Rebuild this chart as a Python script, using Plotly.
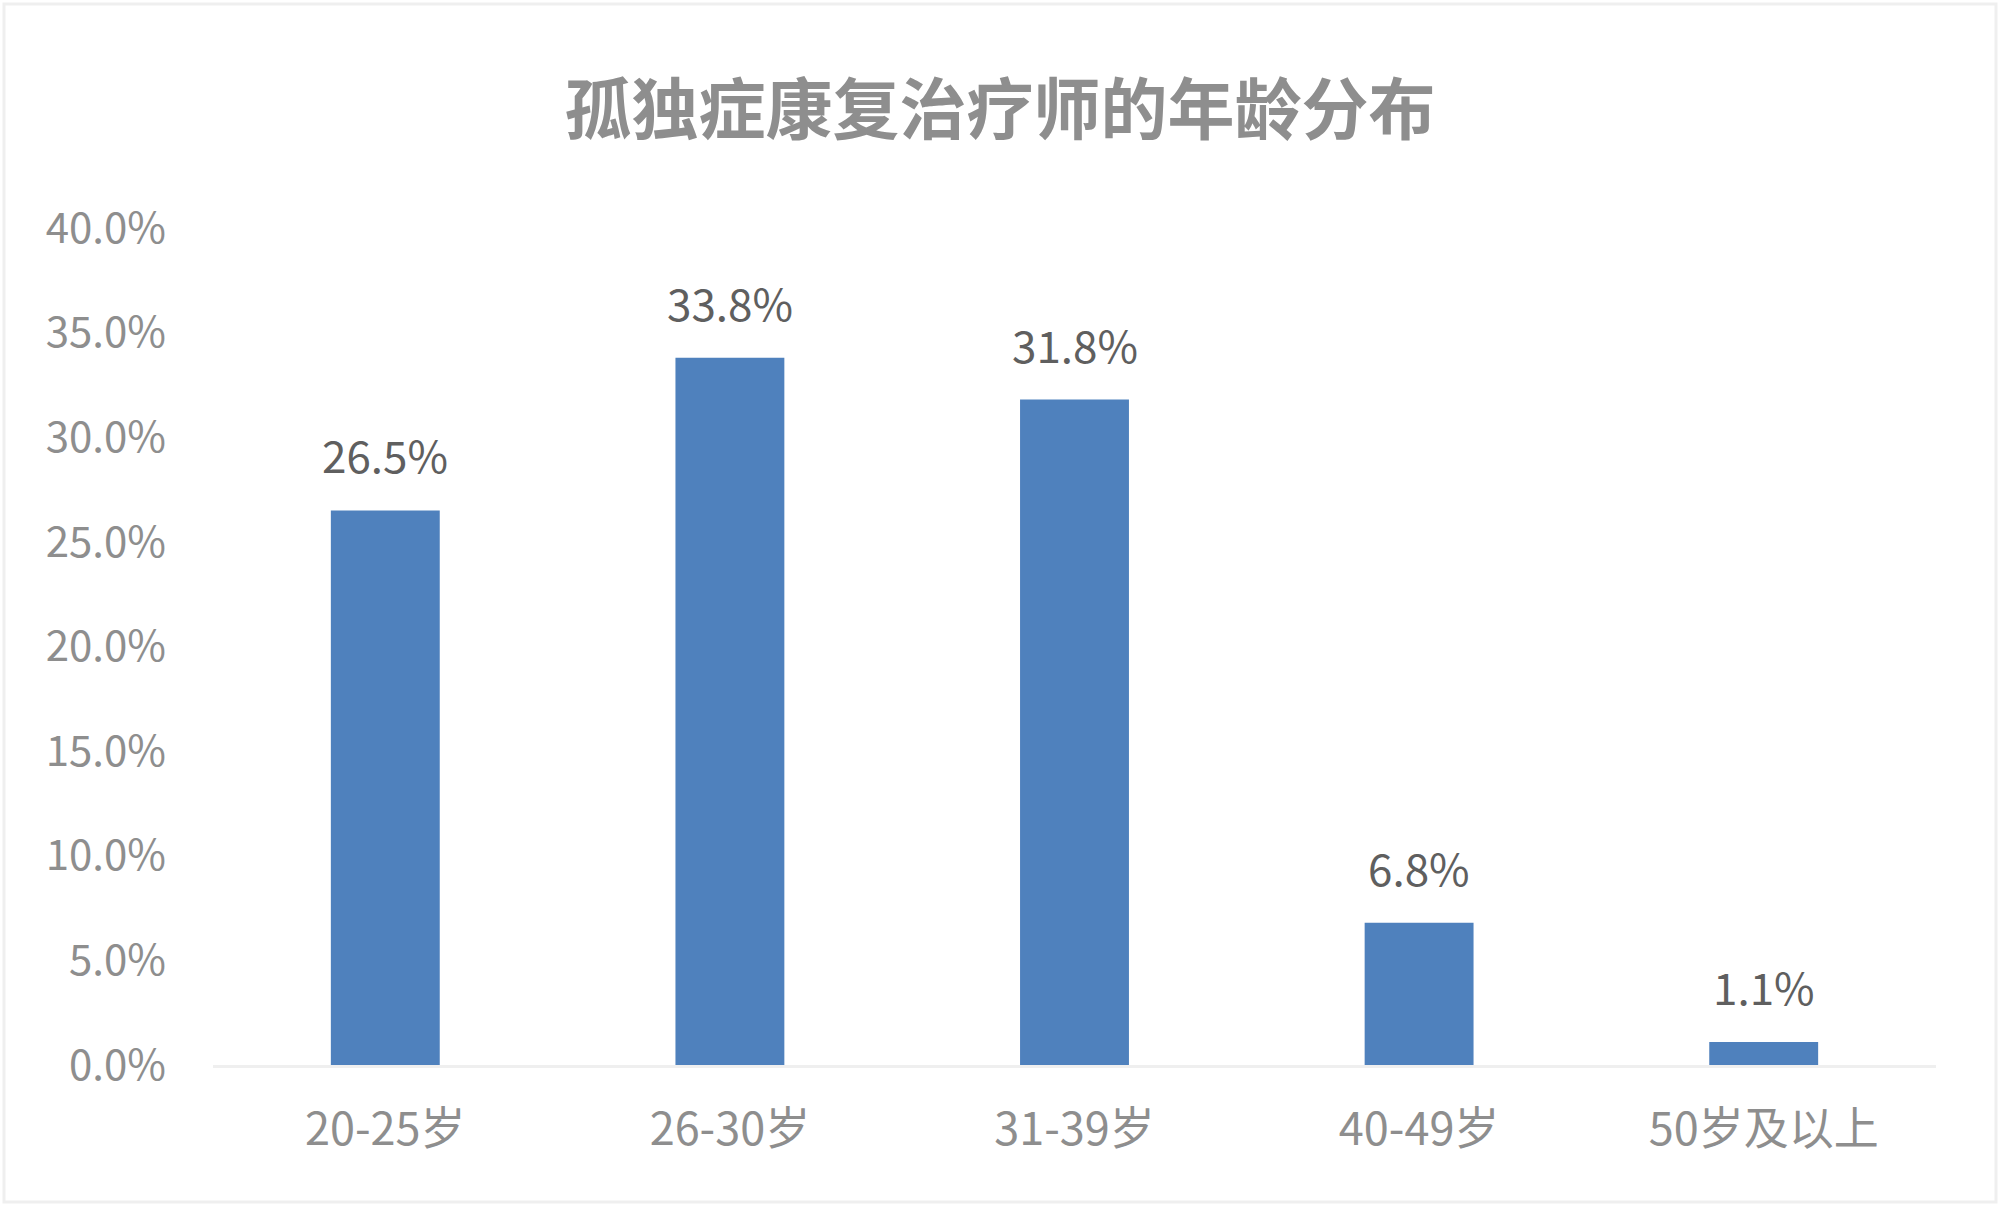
import plotly.graph_objects as go

categories = ["20-25岁", "26-30岁", "31-39岁", "40-49岁", "50岁及以上"]
values = [0.265, 0.338, 0.318, 0.068, 0.011]
value_labels = ["26.5%", "33.8%", "31.8%", "6.8%", "1.1%"]
title_text = "孤独症康复治疗师的年龄分布"

FONT = "Noto Sans CJK SC, Noto Sans, sans-serif"

fig = go.Figure()
fig.add_trace(go.Bar(
    x=categories,
    y=values,
    marker=dict(color="#4f81bd", line=dict(width=0)),
    showlegend=False,
    hoverinfo="skip",
))

for c, v, t in zip(categories, values, value_labels):
    fig.add_annotation(
        x=c, y=v, text=t, showarrow=False,
        yanchor="bottom", yshift=22,
        font=dict(family=FONT, size=44, color="#5f5f5f"),
    )

fig.update_layout(
    width=2000, height=1205,
    paper_bgcolor="white", plot_bgcolor="white",
    margin=dict(l=213, r=64, t=228, b=140, pad=0),
    bargap=0.684,
    title=dict(
        text="<b>" + title_text + "</b>",
        x=0.5, xref="container", xanchor="center",
        y=1 - 111 / 1205, yref="container", yanchor="middle",
        font=dict(family=FONT, size=67, color="#8e8e8e"),
    ),
    font=dict(family=FONT),
    xaxis=dict(
        showgrid=False, zeroline=False,
        showline=True, linecolor="#efefef", linewidth=3,
        ticks="", ticklabelstandoff=23,
        tickfont=dict(family=FONT, size=45, color="#8e8e8e"),
    ),
    yaxis=dict(
        range=[0, 0.4], dtick=0.05, tickformat=".1%",
        showgrid=False, zeroline=False, showline=False,
        ticks="", ticklabelstandoff=46,
        tickfont=dict(family=FONT, size=42, color="#8e8e8e"),
    ),
    shapes=[dict(
        type="rect", xref="paper", yref="paper",
        x0=-209 / 1723, x1=1 + 60 / 1723,
        y0=-137 / 837, y1=1 + 224 / 837,
        line=dict(color="#efefef", width=3), fillcolor="rgba(0,0,0,0)",
        layer="below",
    )],
)

fig.write_html(
    "out.html",
    config={"displayModeBar": False},
    post_script="document.body.style.margin='0';",
)
